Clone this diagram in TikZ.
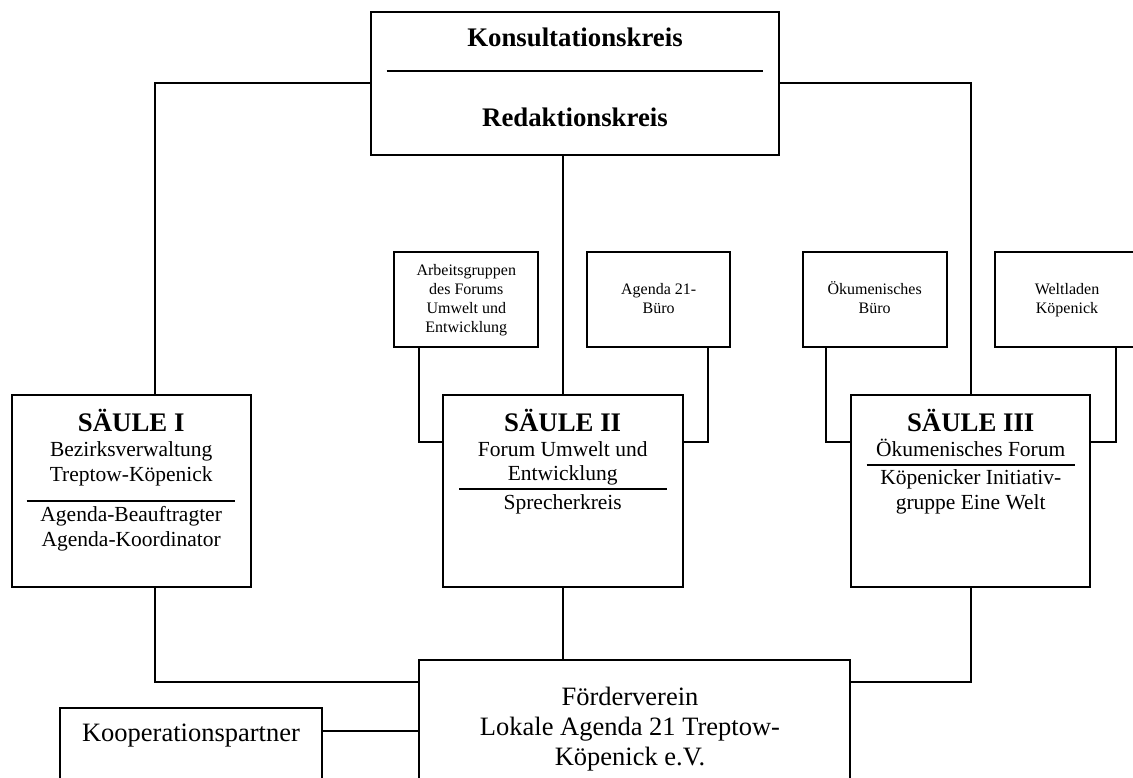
\documentclass[tikz,border=0pt]{standalone}
\usepackage{fontspec}
\setmainfont{Liberation Serif}
\usetikzlibrary{positioning}

\begin{document}
\begin{tikzpicture}[x=1pt, y=-1pt,
    box/.style={draw, line width=2pt, inner sep=0pt},
    link/.style={line width=1.6pt},
    rulebar/.style={line width=2.3pt},
    pillarhead/.style={font=\fontsize{26.8}{30}\selectfont\bfseries, inner sep=0pt, anchor=base},
    pillartext/.style={font=\fontsize{21.5}{24.5}\selectfont, align=center, inner sep=0pt, anchor=base},
    smalltext/.style={font=\fontsize{16}{19}\selectfont, align=center, inner sep=0pt, anchor=base},
    fvtext/.style={font=\fontsize{26.5}{30}\selectfont, align=center, inner sep=0pt, anchor=base}]
    \path[use as bounding box, fill=white] (0,0) rectangle (1133,778);

    % boxes
    \node[box, minimum width=408pt, minimum height=143.5pt] (kons) at (575,83.3) {};
    \node[box, minimum width=144pt, minimum height=95pt] (ag) at (466.3,299.2) {};
    \node[box, minimum width=143pt, minimum height=95pt] (ab) at (658.7,299.2) {};
    \node[box, minimum width=144pt, minimum height=95pt] (ob) at (874.7,299.2) {};
    \node[box, minimum width=144pt, minimum height=95pt] (wl) at (1067,299.2) {};
    \node[box, minimum width=239pt, minimum height=192pt] (s1) at (131.2,491) {};
    \node[box, minimum width=240pt, minimum height=192pt] (s2) at (562.7,491) {};
    \node[box, minimum width=239.5pt, minimum height=192pt] (s3) at (970.7,491) {};
    \node[box, minimum width=431.2pt, minimum height=141.4pt] (fv) at (634.8,730.7) {};
    \node[box, minimum width=262.5pt, minimum height=100pt] (kp) at (191,757.7) {};

    % texts (multi-line nodes sit on their last baseline)
    \node[pillarhead] (konsA) at (575,46.7) {Konsultationskreis};
    \draw[rulebar] (386.7,70.7) -- (763.3,70.7);
    \node[pillarhead] (konsB) at (575,127) {Redaktionskreis};

    \node[smalltext] (agT) at (466.3,332) {Arbeitsgruppen\\des Forums\\Umwelt und\\Entwicklung};
    \node[smalltext] (abT) at (658.7,313) {Agenda 21-\\Büro};
    \node[smalltext] (obT) at (874.7,313) {Ökumenisches\\Büro};
    \node[smalltext] (wlT) at (1067,313) {Weltladen\\Köpenick};

    \node[pillarhead] (s1head) at (131.2,431.5) {SÄULE I};
    \node[pillartext] (s1top) at (131.2,481) {Bezirksverwaltung\\Treptow-Köpenick};
    \draw[rulebar] (26.7,500.7) -- (235,500.7);
    \node[pillartext] (s1bot) at (131.2,546) {Agenda-Beauftragter\\Agenda-Koordinator};

    \node[pillarhead] (s2head) at (562.7,431) {SÄULE II};
    \node[pillartext] (s2top) at (562.7,480.5) {Forum Umwelt und\\Entwicklung};
    \draw[rulebar] (459.3,489) -- (666.7,489);
    \node[pillartext] (s2bot) at (562.7,509) {Sprecherkreis};

    \node[pillarhead] (s3head) at (970.7,431.5) {SÄULE III};
    \node[pillartext] (s3top) at (970.7,456) {Ökumenisches Forum};
    \draw[rulebar] (866.7,465) -- (1075,465);
    \node[pillartext] (s3bot) at (970.7,509) {Köpenicker Initiativ-\\gruppe Eine Welt};

    \node[fvtext] (fvT) at (630,765) {Förderverein\\Lokale Agenda 21 Treptow-\\Köpenick e.V.};
    \node[fvtext] (kpT) at (191,741) {Kooperationspartner};

    % connectors
    \draw[link] (kons.west) -| ([xshift=24pt]s1.north);
    \draw[link] (kons.east) -| (s3.north);
    \draw[link] (kons.south -| s2.north) -- (s2.north);
    \draw[link] ([xshift=25.7pt]ag.south west) |- ([yshift=-48pt]s2.north west);
    \draw[link] ([xshift=-23.3pt]ab.south east) |- ([yshift=-48pt]s2.north east);
    \draw[link] ([xshift=24pt]ob.south west) |- ([yshift=-48pt]s3.north west);
    \draw[link] ([xshift=-24pt]wl.south east) |- ([yshift=-48pt]s3.north east);
    \draw[link] ([xshift=24pt]s1.south) |- ([yshift=-22.7pt]fv.north west);
    \draw[link] (s2.south) -- (s2.south |- fv.north);
    \draw[link] (s3.south) |- ([yshift=-22.7pt]fv.north east);
    \draw[link] (kp.east |- fv.west) -- (fv.west);
\end{tikzpicture}
\end{document}
